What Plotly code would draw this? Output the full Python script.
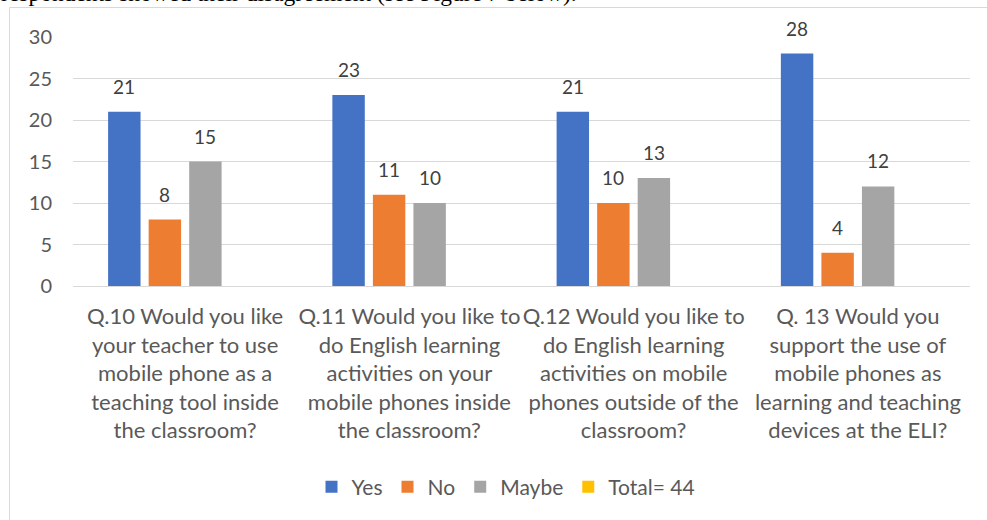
import plotly.graph_objects as go

# Survey responses (n = 44)
questions = [
    "Q.10 Would you like<br>your teacher to use<br>mobile phone as a<br>teaching tool inside<br>the classroom?",
    "Q.11 Would you like to<br>do English learning<br>activities on your<br>mobile phones inside<br>the classroom?",
    "Q.12 Would you like to<br>do English learning<br>activities on mobile<br>phones outside of the<br>classroom?",
    "Q. 13 Would you<br>support the use of<br>mobile phones as<br>learning and teaching<br>devices at the ELI?",
]
yes_values = [21, 23, 21, 28]
no_values = [8, 11, 10, 4]
maybe_values = [15, 10, 13, 12]
total_values = [None, None, None, None]
y_ticks = [0, 5, 10, 15, 20, 25, 30]

series = [
    ("Yes", yes_values, "#4472C4"),
    ("No", no_values, "#ED7D31"),
    ("Maybe", maybe_values, "#A5A5A5"),
    ("Total= 44", total_values, "#FFC000"),
]

W, H = 987, 520
M_L, M_R, M_T, M_B = 73, 17, 37, 234
BARGAP, GROUPGAP = 0.277, 0.2
FONT = "Lato"

fig = go.Figure()
for name, vals, color in series:
    fig.add_trace(go.Bar(
        name=name, x=questions, y=vals,
        marker=dict(color=color, line=dict(width=0)),
    ))

# value labels above each bar
plot_w = W - M_L - M_R
plot_h = H - M_T - M_B
slot = plot_w / len(questions) * (1 - BARGAP) / len(series)
n = len(series)
for i, (name, vals, color) in enumerate(series):
    shift = (i - (n - 1) / 2) * slot
    for q, v in zip(questions, vals):
        if v is None:
            continue
        fig.add_annotation(
            x=q, y=v, text=str(v), showarrow=False,
            xshift=shift, yshift=12, yanchor="bottom",
            font=dict(family=FONT, size=19, color="#404040"),
        )

# chart frame and text line above it
fig.add_shape(
    type="rect", xref="paper", yref="paper",
    x0=(9.5 - M_L) / plot_w, x1=1.2,
    y0=-1.2, y1=(H - M_B - 7.5) / plot_h,
    line=dict(color="#D9D9D9", width=1), fillcolor="rgba(0,0,0,0)",
    layer="below",
)
fig.add_annotation(
    xref="paper", yref="paper",
    x=(-1 - M_L) / plot_w, y=(H - M_B - 8) / plot_h,
    xanchor="left", yanchor="bottom", showarrow=False,
    text="respondents showed their disagreement (see Figure 7 below).",
    font=dict(family="Liberation Serif", size=23.5, color="#000000"),
)

fig.update_layout(
    width=W, height=H,
    margin=dict(l=M_L, r=M_R, t=M_T, b=M_B, pad=0),
    paper_bgcolor="white", plot_bgcolor="white",
    barmode="group", bargap=BARGAP, bargroupgap=GROUPGAP,
    font=dict(family=FONT, color="#595959"),
    showlegend=True,
    legend=dict(
        orientation="h", x=(506 - M_L) / plot_w, xanchor="center",
        y=(H - M_B - 487) / plot_h, yanchor="middle",
        font=dict(family=FONT, size=21, color="#595959"),
        itemclick=False, traceorder="normal",
    ),
)
fig.update_xaxes(
    type="category", showgrid=False, showline=False, ticks="",
    tickangle=0, tickfont=dict(family=FONT, size=22, color="#595959"),
    ticklabelstandoff=15,
)
fig.update_yaxes(
    range=[0, 30], tickvals=y_ticks, showgrid=True, gridcolor="#D9D9D9",
    gridwidth=1, zeroline=True, zerolinecolor="#D9D9D9", zerolinewidth=1,
    showline=False, ticks="", ticklabelstandoff=20,
    tickfont=dict(family=FONT, size=20, color="#595959"),
)

fig.write_html("out.html")
